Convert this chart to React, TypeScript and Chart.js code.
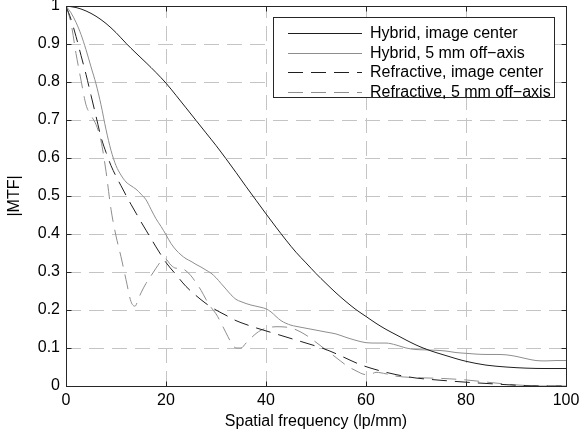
import React, { useEffect, useRef } from "react";
import { Chart, registerables } from "chart.js";

Chart.register(...registerables);

// ---------- data ----------
const hybridCenterX = [0, 2, 4, 6, 8, 10, 12, 14, 16, 18, 20, 22, 24, 26, 28, 30, 32, 34, 36, 38, 40, 42, 44, 46, 48, 50, 52, 54, 56, 58, 60, 62, 64, 66, 68, 70, 72, 74, 76, 78, 80, 84, 88, 92, 96, 100];
const hybridCenterY = [1, 0.996, 0.987, 0.973, 0.954, 0.93, 0.902, 0.876, 0.851, 0.825, 0.797, 0.765, 0.732, 0.699, 0.666, 0.633, 0.598, 0.562, 0.525, 0.489, 0.453, 0.418, 0.384, 0.352, 0.324, 0.296, 0.27, 0.245, 0.222, 0.201, 0.183, 0.165, 0.149, 0.135, 0.121, 0.108, 0.097, 0.088, 0.08, 0.072, 0.065, 0.055, 0.05, 0.047, 0.046, 0.046];

const hybridOffX = [0, 1, 2, 3, 4, 5, 6, 7, 8, 9, 10, 11, 12, 13, 14, 15, 16, 17, 18, 19, 20, 21, 22, 23, 24, 25, 26, 27, 28, 29, 30, 31, 32, 33, 34, 35, 36, 37, 38, 39, 40, 41, 42, 43, 44, 45, 46, 48, 50, 52, 54, 56, 58, 60, 62, 64, 66, 68, 70, 72, 74, 76, 78, 80, 82, 84, 86, 88, 90, 92, 94, 96, 98, 100];
const hybridOffY = [1, 0.982, 0.957, 0.925, 0.885, 0.84, 0.795, 0.74, 0.675, 0.62, 0.58, 0.555, 0.537, 0.527, 0.518, 0.505, 0.49, 0.465, 0.44, 0.42, 0.398, 0.375, 0.358, 0.345, 0.335, 0.328, 0.32, 0.313, 0.305, 0.297, 0.285, 0.27, 0.255, 0.24, 0.228, 0.222, 0.217, 0.213, 0.21, 0.207, 0.203, 0.195, 0.183, 0.172, 0.165, 0.16, 0.157, 0.152, 0.147, 0.142, 0.137, 0.128, 0.12, 0.114, 0.113, 0.113, 0.108, 0.1, 0.096, 0.095, 0.094, 0.092, 0.088, 0.086, 0.084, 0.083, 0.083, 0.082, 0.078, 0.072, 0.067, 0.066, 0.067, 0.067];

const refrCenterX = [0, 1, 2, 3, 4, 5, 6, 7, 8, 9, 10, 11, 12, 13, 14, 15, 16, 17, 18, 19, 20, 22, 24, 26, 28, 30, 32, 34, 36, 38, 40, 42, 44, 46, 48, 50, 52, 54, 56, 58, 60, 62, 64, 66, 68, 70, 75, 80, 85, 90, 95, 100];
const refrCenterY = [1, 0.965, 0.92, 0.87, 0.82, 0.765, 0.71, 0.655, 0.615, 0.58, 0.552, 0.527, 0.502, 0.478, 0.455, 0.432, 0.41, 0.388, 0.366, 0.345, 0.325, 0.293, 0.262, 0.238, 0.217, 0.2, 0.186, 0.172, 0.162, 0.153, 0.145, 0.137, 0.129, 0.121, 0.113, 0.105, 0.096, 0.085, 0.073, 0.061, 0.051, 0.043, 0.036, 0.03, 0.025, 0.021, 0.015, 0.01, 0.006, 0.002, 0, 0];

const refrOffX = [0, 1, 2, 3, 4, 5, 6, 7, 8, 9, 10, 11, 12, 13, 13.8, 14.5, 15, 16, 17, 18, 19, 19.8, 21, 22, 23, 24, 25, 26, 27, 28, 29, 30, 31, 32, 33, 34, 35, 36, 37, 38, 39, 40, 42, 44, 46, 48, 50, 52, 54, 56, 58, 60, 61, 62, 64, 66, 70, 75, 80, 85, 90, 95, 100];
const refrOffY = [1, 0.955, 0.875, 0.805, 0.74, 0.712, 0.688, 0.645, 0.565, 0.465, 0.395, 0.34, 0.28, 0.222, 0.21, 0.23, 0.245, 0.27, 0.29, 0.31, 0.328, 0.335, 0.318, 0.31, 0.31, 0.303, 0.29, 0.272, 0.252, 0.228, 0.207, 0.19, 0.166, 0.14, 0.115, 0.1, 0.1, 0.113, 0.126, 0.138, 0.147, 0.152, 0.156, 0.155, 0.148, 0.134, 0.115, 0.095, 0.075, 0.055, 0.04, 0.03, 0.031, 0.036, 0.032, 0.026, 0.022, 0.02, 0.016, 0.009, 0.003, 0, 0];

const seriesLabels = [
  "Hybrid, image center",
  "Hybrid, 5 mm off\u2212axis",
  "Refractive, image center",
  "Refractive, 5 mm off\u2212axis",
];

const xTickLabels = ["0", "20", "40", "60", "80", "100"];
const yTickLabels = ["0", "0.1", "0.2", "0.3", "0.4", "0.5", "0.6", "0.7", "0.8", "0.9", "1"];

const FONT = "'Liberation Sans', Arial, Helvetica, sans-serif";
const DARK = "#1f1f1f";
const GRAY = "#8e8e8e";
const GRID = "#c4c4c4";
const AXIS = "#262626";
const DASH = [15, 8];
const GRID_DASH = [15, 8];

const toPoints = (xs: number[], ys: number[]) => xs.map((x, i) => ({ x, y: ys[i] }));

const axesPlugin = {
  id: "matlabAxes",
  beforeDatasetsDraw(chart: any) {
    const { ctx, chartArea: a, scales } = chart;
    ctx.save();
    ctx.strokeStyle = GRID;
    ctx.lineWidth = 1;
    ctx.setLineDash(GRID_DASH);
    for (const t of scales.x.ticks) {
      const px = Math.round(scales.x.getPixelForValue(t.value)) + 0.5;
      if (px <= a.left + 1 || px >= a.right - 1) continue;
      ctx.beginPath();
      ctx.moveTo(px, a.bottom);
      ctx.lineTo(px, a.top);
      ctx.stroke();
    }
    for (const t of scales.y.ticks) {
      const py = Math.round(scales.y.getPixelForValue(t.value)) + 0.5;
      if (py <= a.top + 1 || py >= a.bottom - 1) continue;
      ctx.beginPath();
      ctx.moveTo(a.left, py);
      ctx.lineTo(a.right, py);
      ctx.stroke();
    }
    ctx.restore();
  },
  afterDatasetsDraw(chart: any) {
    const { ctx, chartArea: a, scales } = chart;
    const L = Math.round(a.left) + 0.5;
    const R = Math.round(a.right) + 0.5;
    const T = Math.round(a.top) + 0.5;
    const B = Math.round(a.bottom) + 0.5;
    ctx.save();
    ctx.setLineDash([]);
    ctx.strokeStyle = AXIS;
    ctx.lineWidth = 1;
    ctx.strokeRect(L, T, R - L, B - T);
    const tl = 5;
    ctx.beginPath();
    for (const t of scales.x.ticks) {
      const px = Math.round(scales.x.getPixelForValue(t.value)) + 0.5;
      ctx.moveTo(px, B);
      ctx.lineTo(px, B - tl);
      ctx.moveTo(px, T);
      ctx.lineTo(px, T + tl);
    }
    for (const t of scales.y.ticks) {
      const py = Math.round(scales.y.getPixelForValue(t.value)) + 0.5;
      ctx.moveTo(L, py);
      ctx.lineTo(L + tl, py);
      ctx.moveTo(R, py);
      ctx.lineTo(R - tl, py);
    }
    ctx.stroke();
    ctx.restore();
  },
  afterDraw(chart: any) {
    const { ctx } = chart;
    const bx = 273.5, by = 17.5, bw = 281, bh = 80;
    ctx.save();
    ctx.setLineDash([]);
    ctx.fillStyle = "#ffffff";
    ctx.fillRect(bx, by, bw, bh);
    ctx.strokeStyle = AXIS;
    ctx.lineWidth = 1;
    ctx.strokeRect(bx, by, bw, bh);
    ctx.font = `16px ${FONT}`;
    ctx.textBaseline = "middle";
    ctx.textAlign = "left";
    chart.data.datasets.forEach((ds: any, i: number) => {
      const y = Math.round(33 + i * 19.7) + 0.5;
      ctx.strokeStyle = ds.borderColor;
      ctx.lineWidth = 1;
      ctx.setLineDash(ds.borderDash || []);
      ctx.beginPath();
      ctx.moveTo(288, y);
      ctx.lineTo(362, y);
      ctx.stroke();
      ctx.fillStyle = "#000000";
      ctx.fillText(ds.label, 370, y + 0.5);
    });
    ctx.restore();
  },
};

export default function App() {
  const ref = useRef<HTMLCanvasElement | null>(null);

  useEffect(() => {
    if (!ref.current) return;
    const chart = new Chart(ref.current, {
      type: "line",
      data: {
        datasets: [
          { label: seriesLabels[0], data: toPoints(hybridCenterX, hybridCenterY), borderColor: DARK, borderWidth: 1, pointRadius: 0, cubicInterpolationMode: "monotone" },
          { label: seriesLabels[1], data: toPoints(hybridOffX, hybridOffY), borderColor: GRAY, borderWidth: 1, pointRadius: 0, cubicInterpolationMode: "monotone" },
          { label: seriesLabels[2], data: toPoints(refrCenterX, refrCenterY), borderColor: DARK, borderWidth: 1, borderDash: DASH, pointRadius: 0, cubicInterpolationMode: "monotone" },
          { label: seriesLabels[3], data: toPoints(refrOffX, refrOffY), borderColor: GRAY, borderWidth: 1, borderDash: DASH, pointRadius: 0, cubicInterpolationMode: "monotone" },
        ] as any,
      },
      options: {
        animation: false,
        responsive: false,
        events: [],
        layout: { padding: { left: 0, top: 6, right: 13, bottom: 0 } },
        plugins: { legend: { display: false }, tooltip: { enabled: false } },
        scales: {
          x: {
            type: "linear",
            min: 0,
            max: 100,
            grid: { display: false, drawTicks: false },
            border: { display: false },
            ticks: {
              stepSize: 20,
              padding: 5,
              color: "#000",
              font: { family: FONT, size: 16 },
              maxRotation: 0,
              callback: (v: any) => xTickLabels[Math.round(Number(v) / 20)] ?? "",
            },
            title: { display: true, text: "Spatial frequency (lp/mm)", color: "#000", font: { family: FONT, size: 16 }, padding: { top: 5, bottom: 5 } },
            afterFit: (s: any) => { s.height = 50; s.paddingLeft = 0; s.paddingRight = 0; },
          },
          y: {
            type: "linear",
            min: 0,
            max: 1,
            grid: { display: false, drawTicks: false },
            border: { display: false },
            ticks: {
              stepSize: 0.1,
              padding: 6,
              color: "#000",
              font: { family: FONT, size: 16 },
              callback: (v: any) => yTickLabels[Math.round(Number(v) * 10)] ?? "",
            },
            title: { display: true, text: "|MTF|", color: "#000", font: { family: FONT, size: 16 }, padding: { top: 5, bottom: 5 } },
            afterFit: (s: any) => { s.width = 66; s.paddingTop = 0; s.paddingBottom = 0; },
          },
        },
      },
      plugins: [axesPlugin],
    });
    return () => chart.destroy();
  }, []);

  return (
    <div style={{ position: "fixed", left: 0, top: 0, width: 579, height: 436, background: "#fff" }}>
      <canvas ref={ref} width={579} height={436} style={{ display: "block" }} />
    </div>
  );
}
